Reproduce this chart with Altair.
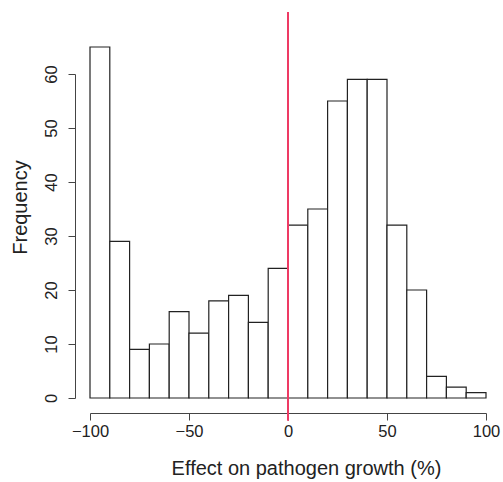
import altair as alt
import pandas as pd

bin_starts = [-100, -90, -80, -70, -60, -50, -40, -30, -20, -10,
              0, 10, 20, 30, 40, 50, 60, 70, 80, 90]
counts = [65, 29, 9, 10, 16, 12, 18, 19, 14, 24,
          32, 35, 55, 59, 59, 32, 20, 4, 2, 1]
bin_width = 10
x_ticks = [-100, -50, 0, 50, 100]
y_ticks = [0, 10, 20, 30, 40, 50, 60]
ref_x = 0
ref_y_span = [-4.2, 71.5]

df = pd.DataFrame({
    "start": bin_starts,
    "end": [s + bin_width for s in bin_starts],
    "count": counts,
    "zero": [0] * len(counts),
})
ref = pd.DataFrame({"x": [ref_x], "y": [ref_y_span[0]], "y2": [ref_y_span[1]]})

FONT = "Liberation Sans"

xscale = alt.Scale(domain=[-100, 100], nice=False, zero=False)
yscale = alt.Scale(domain=[0, 60], nice=False)

bars = alt.Chart(df).mark_rect(fill="white", stroke="#222222", strokeWidth=1.2).encode(
    x=alt.X("start:Q", scale=xscale,
            axis=alt.Axis(values=x_ticks, title="Effect on pathogen growth (%)",
                          offset=15, grid=False, tickSize=7, labelPadding=3,
                          labelFontSize=16.5, labelFont=FONT, labelColor="#222222",
                          domainColor="#444444", tickColor="#444444",
                          titleFont=FONT, titleFontSize=20, titleFontWeight="normal",
                          titleColor="#222222", titleX=216, titleY=61,
                          titleBaseline="alphabetic", titleAlign="center",
                          labelFlush=False)),
    x2="end:Q",
    y=alt.Y("count:Q", scale=yscale,
            axis=alt.Axis(values=y_ticks, title="Frequency", offset=15, grid=False,
                          tickSize=7, labelAngle=270, labelAlign="center",
                          labelBaseline="bottom", labelPadding=9,
                          labelFontSize=16.5, labelFont=FONT, labelColor="#222222",
                          domainColor="#444444", tickColor="#444444",
                          titleFont=FONT, titleFontSize=20, titleFontWeight="normal",
                          titleColor="#222222", titleAngle=270, titleX=-55, titleY=133,
                          titleBaseline="middle", titleAlign="center",
                          labelFlush=False)),
    y2="zero:Q",
)

rule = alt.Chart(ref).mark_rule(color="#ee3a64", strokeWidth=2).encode(
    x=alt.X("x:Q", scale=xscale),
    y=alt.Y("y:Q", scale=yscale),
    y2="y2:Q",
)

chart = alt.layer(bars, rule).properties(
    width=396, height=324,
    autosize=alt.AutoSizeParams(type="none"),
    padding={"left": 90, "top": 74, "right": 17, "bottom": 84},
    background="white",
).configure_view(stroke=None)

chart.save("out.html", embed_options={"renderer": "svg", "actions": False})
